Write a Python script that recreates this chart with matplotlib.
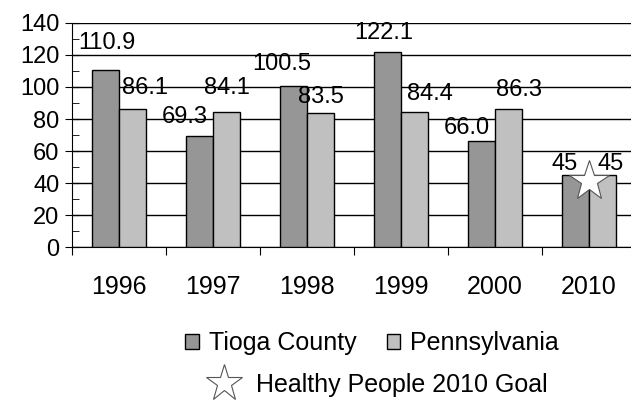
import numpy as np
import matplotlib
matplotlib.use("Agg")
import matplotlib.pyplot as plt
from matplotlib.lines import Line2D

plt.rcParams['font.family'] = ['Liberation Sans', 'DejaVu Sans']

years = ['1996', '1997', '1998', '1999', '2000', '2010']
tioga = [110.9, 69.3, 100.5, 122.1, 66.0, 45]
penn = [86.1, 84.1, 83.5, 84.4, 86.3, 45]
tioga_txt = ['110.9', '69.3', '100.5', '122.1', '66.0', '45']
penn_txt = ['86.1', '84.1', '83.5', '84.4', '86.3', '45']
goal = 41

# label offsets in pixels (dx, dy) from bar top, as placed in the original
tioga_off = [(2, 27), (-15, 19), (-12, 22), (-4, 19), (-15, 13), (-11, 11)]
penn_off = [(12, 21), (0, 24), (0, 16), (15, 18), (10, 19), (8, 11)]

fig = plt.figure(figsize=(6.31, 4.03), dpi=100)
ax = fig.add_axes([0.114, 0.387, 0.894, 0.556])

x = np.arange(len(years)) + 0.5
w = 0.29
b1 = ax.bar(x - w/2, tioga, w, color='#969696', edgecolor='black', linewidth=1, zorder=3, label='Tioga County')
b2 = ax.bar(x + w/2, penn, w, color='#c0c0c0', edgecolor='black', linewidth=1, zorder=3, label='Pennsylvania')

for i in range(len(years)):
    ax.annotate(tioga_txt[i], (x[i] - w/2, tioga[i]), xytext=tioga_off[i], textcoords='offset pixels',
                ha='center', va='center', fontsize=17, zorder=5)
    ax.annotate(penn_txt[i], (x[i] + w/2, penn[i]), xytext=penn_off[i], textcoords='offset pixels',
                ha='center', va='center', fontsize=17, zorder=5)

ax.plot(x[-1], goal, marker='*', markersize=30, markerfacecolor='white', markeredgecolor='#555555',
        markeredgewidth=0.8, linestyle='none', zorder=6)

ax.set_xlim(0, 6)
ax.set_ylim(0, 140)
ax.set_yticks(range(0, 141, 20))
ax.set_yticks(range(10, 140, 20), minor=True)
ax.set_xticks(range(0, 7))
ax.set_xticklabels([])
ax.set_xticks(x, minor=True)
ax.set_xticklabels(years, minor=True)
ax.tick_params(axis='y', which='major', labelsize=17, direction='inout', length=10, pad=4)
ax.tick_params(axis='y', which='minor', direction='in', length=5)
ax.tick_params(axis='x', which='major', direction='out', length=6)
ax.tick_params(axis='x', which='minor', length=0, labelsize=18, pad=20)
ax.grid(axis='y', which='major', color='black', linewidth=1, zorder=0)
ax.spines['top'].set_visible(False)
ax.spines['right'].set_visible(False)

leg1 = fig.legend(handles=[b1, b2], loc='center', bbox_to_anchor=(0.59, 0.149), ncol=2, frameon=False,
                  fontsize=18, handlelength=0.55, handleheight=0.55, handletextpad=0.4, columnspacing=1.2)
star = Line2D([], [], marker='*', markersize=28, markerfacecolor='white', markeredgecolor='#555555',
              markeredgewidth=0.8, linestyle='none')
leg2 = fig.legend(handles=[star], labels=['Healthy People 2010 Goal'], loc='center',
                  bbox_to_anchor=(0.592, 0.045), frameon=False, fontsize=18, handletextpad=0.3)

fig.savefig('out.png', dpi=100)
